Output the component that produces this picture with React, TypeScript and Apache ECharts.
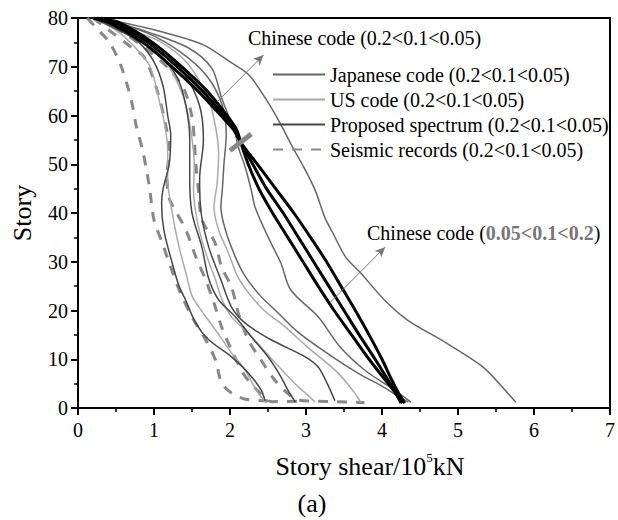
import React, { useEffect, useRef } from 'react';
import * as echarts from 'echarts';

const FONT = 'Liberation Serif';

const xTicks = [0, 1, 2, 3, 4, 5, 6, 7];
const yTicks = [0, 10, 20, 30, 40, 50, 60, 70, 80];

const JP = 'Japanese code (0.2<0.1<0.05)';
const US = 'US code (0.2<0.1<0.05)';
const PR = 'Proposed spectrum (0.2<0.1<0.05)';
const SR = 'Seismic records (0.2<0.1<0.05)';
const CN = 'Chinese code';
const legendNames = [JP, US, PR, SR];

// [story shear (10^5 kN), story]
const chinaA = [[0.2,80],[0.42,79],[0.85,75],[1.2,70.5],[1.58,65],[1.88,60],[2.05,57],[2.14,54.5],[2.36,50],[2.6,45],[2.84,40],[3.06,35],[3.27,30],[3.46,25],[3.65,20],[3.83,15],[4.0,10],[4.12,6],[4.22,3],[4.3,1]];
const chinaB = [[0.25,80],[0.48,79],[0.92,75],[1.27,70.5],[1.64,65],[1.92,60],[2.07,57],[2.14,54.5],[2.3,50],[2.48,45],[2.7,40],[2.9,35],[3.1,30],[3.3,25],[3.5,20],[3.7,15],[3.91,10],[4.07,6],[4.2,3],[4.27,1]];
const chinaC = [[0.3,80],[0.55,79],[0.98,75],[1.33,70.5],[1.7,65],[1.96,60],[2.09,57],[2.14,54.5],[2.24,50],[2.38,45],[2.56,40],[2.76,35],[2.96,30],[3.16,25],[3.37,20],[3.6,15],[3.83,10],[4.03,6],[4.18,3],[4.25,1]];

const japanA = [[0.3,80],[1.1,77.2],[1.65,74.5],[2.0,71],[2.25,68.3],[2.48,63.2],[2.66,58.4],[2.83,53.3],[2.95,50],[3.12,44.7],[3.25,39],[3.35,36],[3.52,31],[3.72,27.7],[4.03,22.2],[4.33,18.1],[4.85,13.3],[5.33,8.4],[5.6,4],[5.76,1.2]];
const japanB = [[0.3,80],[0.94,77],[1.46,73.8],[1.76,69.7],[1.89,63.6],[1.98,60],[2.05,57.6],[2.11,53.5],[2.2,49.4],[2.28,44.7],[2.33,41.2],[2.5,35.1],[2.67,29.7],[2.8,24.2],[3.16,18.7],[3.45,12.5],[3.77,7.8],[4.16,3.7],[4.38,1.2]];
const japanC = [[0.3,80],[0.9,77],[1.35,73],[1.7,68],[1.9,62],[1.95,56],[1.92,50],[1.9,45],[1.88,41.2],[1.94,36.5],[2.07,31],[2.2,27],[2.4,23],[2.6,20],[2.89,15.6],[3.3,11],[3.7,7],[4.0,4.5],[4.2,2.5],[4.35,1.2]];

const usA = [[0.2,80],[0.5,77.5],[0.75,74],[0.95,70],[1.07,63],[1.13,59],[1.18,53],[1.18,47],[1.24,40],[1.33,33],[1.42,27.7],[1.5,23],[1.6,20.5],[1.81,16],[2.02,11.3],[2.2,7.8],[2.35,3.5],[2.48,1]];
const usB = [[0.22,80],[0.6,77.5],[0.95,74.5],[1.2,70],[1.4,63.2],[1.49,56.4],[1.53,49.4],[1.52,44.7],[1.55,40],[1.62,35],[1.72,30],[1.81,26.3],[1.88,22.8],[2.02,18.7],[2.24,15.4],[2.6,9.2],[2.9,4.3],[3.02,2.7],[3.12,1.2]];
const usC = [[0.25,80],[0.7,77.5],[1.1,75],[1.45,70.5],[1.72,63.2],[1.81,57.6],[1.85,52.3],[1.83,46],[1.79,41.2],[1.85,36.5],[1.98,31.8],[2.1,27],[2.25,23.5],[2.45,20],[2.7,17],[3.02,12.5],[3.42,7.2],[3.64,3.1],[3.72,1.2]];

const propA = [[0.2,80],[0.5,78],[0.8,75],[1.0,71],[1.12,66],[1.18,60],[1.22,56],[1.2,50],[1.12,45],[1.1,42],[1.13,36.5],[1.24,29.7],[1.33,25],[1.42,22],[1.55,17.4],[1.72,14],[2.02,10.5],[2.24,7.2],[2.41,3.7],[2.46,1.5]];
const propB = [[0.2,80],[0.6,77],[1.0,73.5],[1.3,68],[1.42,62],[1.47,55],[1.47,47],[1.5,40],[1.63,33],[1.72,26.5],[1.85,22.2],[2.07,18.7],[2.28,14.6],[2.5,10.5],[2.67,6.4],[2.76,3.7],[2.86,1.2]];
const propC = [[0.22,80],[0.7,77],[1.1,73.5],[1.4,68.5],[1.6,62],[1.65,55],[1.6,47],[1.62,40],[1.72,33],[1.88,26.3],[2.02,20.7],[2.2,17.4],[2.54,14],[2.99,10.5],[3.16,8.4],[3.28,5],[3.38,1.5]];

const seismicA = [[0.12,80],[0.3,77],[0.42,74.9],[0.57,70],[0.7,63.2],[0.77,57.6],[0.85,52.9],[0.94,45.3],[1.0,38.6],[1.11,33.8],[1.22,28.9],[1.35,23.5],[1.5,18.7],[1.68,14],[1.81,9.8],[1.89,5.1],[2.02,3.1],[2.2,1.8],[2.5,1.5]];
const seismicB = [[0.2,80],[0.45,77],[0.7,74],[0.87,72],[1.04,65.2],[1.16,57.6],[1.2,52.9],[1.17,47.4],[1.2,43],[1.3,40],[1.42,36.5],[1.55,31],[1.68,26.3],[1.79,21.5],[1.89,16.6],[2.02,11.9],[2.2,6.5],[2.4,3],[2.55,1.3],[2.9,1.4]];
const seismicC = [[0.25,80],[0.6,77],[0.95,73],[1.2,69.5],[1.4,65.2],[1.5,59.7],[1.53,55],[1.55,50],[1.59,44],[1.63,38.6],[1.8,34],[1.89,28.9],[2.02,24.8],[2.11,19.5],[2.24,14],[2.41,9.8],[2.59,5.7],[2.76,3],[2.9,1.6],[3.4,1.3],[3.77,1.1]];

// annotation segments (data coordinates)
const arrowUpper = [[1.83, 62.8], [2.44, 72.4]];
const arrowLower = [[3.32, 21.7], [4.04, 33.0]];
const crossMark = [[2.0, 52.8], [2.28, 56.2]];

const thin = (name: string, data: number[][], color: string) => ({
  name, type: 'line', data, symbol: 'none', showSymbol: false, smooth: 0.3,
  lineStyle: { color, width: 1.5 }, itemStyle: { color }, silent: true,
});

export default function App() {
  const ref = useRef<HTMLDivElement>(null);
  useEffect(() => {
    const chart = echarts.init(ref.current!, null, { renderer: 'svg' });
    const seismicStyle = { color: '#888', width: 3, type: [10, 9] as any };
    const series: any[] = [
      ...[seismicA, seismicB, seismicC].map((d) => ({
        name: SR, type: 'line', data: d, symbol: 'none', showSymbol: false, smooth: 0.3,
        lineStyle: seismicStyle, itemStyle: { color: '#888' }, silent: true,
      })),
      ...[usA, usB, usC].map((d) => thin(US, d, '#aaaaaa')),
      ...[japanA, japanB, japanC].map((d) => thin(JP, d, '#676767')),
      ...[propA, propB, propC].map((d) => thin(PR, d, '#474747')),
      ...[chinaA, chinaB, chinaC].map((d) => ({
        name: CN, type: 'line', data: d, symbol: 'none', showSymbol: false, smooth: 0.25,
        lineStyle: { color: '#000', width: 3 }, itemStyle: { color: '#000' }, silent: true,
      })),
      {
        name: 'annotations', type: 'line', data: [], symbol: 'none', silent: true,
        markLine: {
          silent: true, animation: false, label: { show: false },
          data: [
            [{ coord: arrowUpper[0], symbol: 'none' }, { coord: arrowUpper[1], symbol: 'arrow', symbolSize: [7, 10] }],
            [{ coord: arrowLower[0], symbol: 'none' }, { coord: arrowLower[1], symbol: 'arrow', symbolSize: [7, 10] }],
          ],
          lineStyle: { color: '#777', width: 1, type: 'solid' },
        },
      },
      {
        name: 'cross', type: 'line', data: [], symbol: 'none', silent: true,
        markLine: {
          silent: true, animation: false, label: { show: false }, symbol: ['none', 'none'],
          data: [[{ coord: crossMark[0] }, { coord: crossMark[1] }]],
          lineStyle: { color: '#888', width: 5, type: 'solid' },
        },
      },
    ];

    chart.setOption({
      animation: false,
      textStyle: { fontFamily: FONT },
      grid: { left: 78, right: 4, top: 18, bottom: 112, show: true, borderColor: '#000', borderWidth: 2 },
      legend: {
        data: legendNames, orient: 'vertical', left: 272, top: 62, padding: 0, itemGap: 0,
        itemWidth: 52, itemHeight: 14, selectedMode: false,
        itemStyle: { opacity: 0 },
        textStyle: { fontFamily: FONT, fontSize: 20, color: '#000', lineHeight: 25 },
      },
      xAxis: {
        type: 'value', min: xTicks[0], max: xTicks[xTicks.length - 1], interval: 1,
        axisLine: { show: true, lineStyle: { color: '#000', width: 2 } },
        axisTick: { show: true, inside: false, length: 7, lineStyle: { color: '#000', width: 2 } },
        minorTick: { show: true, splitNumber: 2, length: 4, lineStyle: { color: '#000', width: 1.5 } },
        splitLine: { show: false },
        axisLabel: { fontFamily: FONT, fontSize: 20, color: '#000', margin: 12 },
      },
      yAxis: {
        type: 'value', min: yTicks[0], max: yTicks[yTicks.length - 1], interval: 10,
        axisLine: { show: true, lineStyle: { color: '#000', width: 2 } },
        axisTick: { show: true, inside: false, length: 7, lineStyle: { color: '#000', width: 2 } },
        minorTick: { show: true, splitNumber: 2, length: 4, lineStyle: { color: '#000', width: 1.5 } },
        splitLine: { show: false },
        axisLabel: { fontFamily: FONT, fontSize: 20, color: '#000', margin: 10 },
      },
      graphic: [
        {
          type: 'text', x: 22, y: 213, rotation: Math.PI / 2,
          style: { text: 'Story', fontFamily: FONT, fontSize: 26, fill: '#000', align: 'center', verticalAlign: 'middle', textAlign: 'center', textVerticalAlign: 'middle' },
        },
        {
          type: 'text', x: 370, y: 466,
          style: {
            text: '{a|Story shear/10}{s|5}{a|kN}', fill: '#000', align: 'center', verticalAlign: 'middle', textAlign: 'center', textVerticalAlign: 'middle',
            rich: {
              a: { fontFamily: FONT, fontSize: 26, fill: '#000', lineHeight: 30 },
              s: { fontFamily: FONT, fontSize: 13, fill: '#000', verticalAlign: 'top', lineHeight: 30 },
            },
          },
        },
        {
          type: 'text', x: 312, y: 503,
          style: { text: '(a)', fontFamily: FONT, fontSize: 26, fill: '#000', align: 'center', verticalAlign: 'middle', textAlign: 'center', textVerticalAlign: 'middle' },
        },
        {
          type: 'text', x: 248, y: 38,
          style: { text: 'Chinese code (0.2<0.1<0.05)', fontFamily: FONT, fontSize: 20, fill: '#000', align: 'left', verticalAlign: 'middle', textAlign: 'left', textVerticalAlign: 'middle' },
        },
        {
          type: 'text', x: 367, y: 233,
          style: {
            text: '{n|Chinese code (}{b|0.05<0.1<0.2}{n|)}', align: 'left', verticalAlign: 'middle', textAlign: 'left', textVerticalAlign: 'middle',
            rich: {
              n: { fontFamily: FONT, fontSize: 20, fill: '#000' },
              b: { fontFamily: FONT, fontSize: 20, fill: '#777', fontWeight: 'bold' },
            },
          },
        },
      ],
      series,
    });
    return () => chart.dispose();
  }, []);
  return <div ref={ref} style={{ position: 'absolute', left: 0, top: 0, width: 618, height: 520 }} />;
}
